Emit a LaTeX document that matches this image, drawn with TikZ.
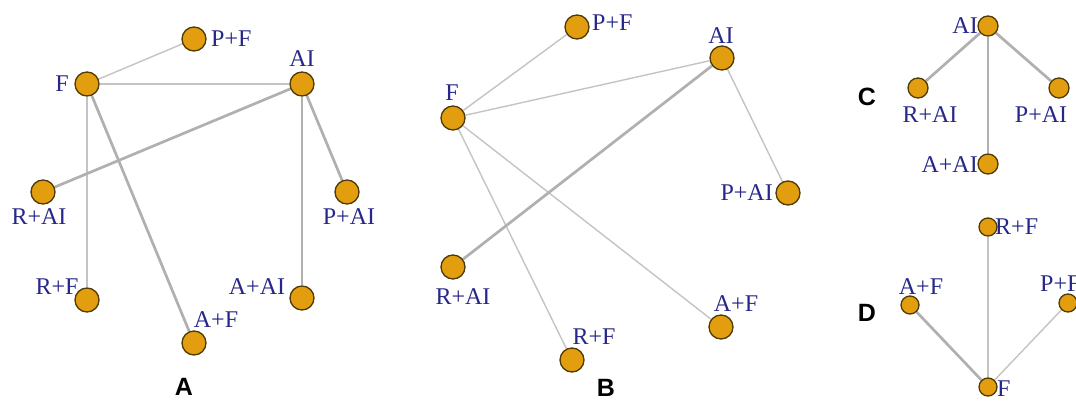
\documentclass[tikz,border=0pt]{standalone}
\usepackage{fontspec}
\setmainfont{Liberation Serif}
\newfontfamily\panelfont{Liberation Sans}
\usetikzlibrary{backgrounds}
\definecolor{nodeorange}{HTML}{E39E0F}
\definecolor{nodeborder}{HTML}{4E3A05}
\definecolor{labblue}{HTML}{27278A}
\definecolor{thingray}{HTML}{C4C4C4}
\definecolor{thickgray}{HTML}{B0B0B0}
\tikzset{
  nd/.style={circle, fill=nodeorange, draw=nodeborder, line width=1.3pt, minimum size=24pt, inner sep=0pt},
  ndc/.style={nd, minimum size=20pt},
  ndd/.style={nd, minimum size=18pt},
  lab/.style={text=labblue, font=\fontsize{24}{24}\selectfont, inner sep=0pt},
  plab/.style={font=\panelfont\bfseries\fontsize{25}{25}\selectfont, inner sep=0pt},
  thinedge/.style={draw=thingray, line width=1.4pt},
  thickedge/.style={draw=thickgray, line width=2.7pt},
}
\begin{document}
\begin{tikzpicture}[x=1pt, y=-1pt]
\useasboundingbox (0,0) rectangle (1076,401);
% ---------- Panel A ----------
\node[nd] (aPF) at (194,39) {};
\node[nd] (aF) at (87,84) {};
\node[nd] (aAI) at (302,84) {};
\node[nd] (aRAI) at (43,192) {};
\node[nd] (aPAI) at (347,192) {};
\node[nd] (aRF) at (87,300) {};
\node[nd] (aAAI) at (302,298) {};
\node[nd] (aAF) at (194,343) {};
\node[lab, anchor=west] (laPF) at (211,39) {P+F};
\node[lab] (laF) at (62,84) {F};
\node[lab] (laAI) at (302,59) {AI};
\node[lab] (laRAI) at (39,217) {R+AI};
\node[lab] (laPAI) at (349,217) {P+AI};
\node[lab] (laRF) at (57,287) {R+F};
\node[lab] (laAAI) at (257,287) {A+AI};
\node[lab] (laAF) at (216,320) {A+F};
\node[plab] (pA) at (184,387) {A};
% ---------- Panel B ----------
\node[nd] (bPF) at (577,27) {};
\node[nd] (bAI) at (722,58) {};
\node[nd] (bF) at (453,118) {};
\node[nd] (bPAI) at (788,193) {};
\node[nd] (bRAI) at (453,267) {};
\node[nd] (bAF) at (721,327) {};
\node[nd] (bRF) at (572,360) {};
\node[lab, anchor=west] (lbPF) at (592,23) {P+F};
\node[lab] (lbAI) at (721,36) {AI};
\node[lab] (lbF) at (452,93) {F};
\node[lab, anchor=east] (lbPAI) at (773,193) {P+AI};
\node[lab] (lbRAI) at (463,297) {R+AI};
\node[lab] (lbAF) at (736,304) {A+F};
\node[lab] (lbRF) at (594,337) {R+F};
\node[plab] (pB) at (606,388) {B};
% ---------- Panel C ----------
\node[ndc] (cAI) at (988,26) {};
\node[ndc] (cRAI) at (918,88) {};
\node[ndc] (cPAI) at (1059,88) {};
\node[ndc] (cAAI) at (988,164) {};
\node[lab, anchor=east] (lcAI) at (978,26) {AI};
\node[lab] (lcRAI) at (930,115) {R+AI};
\node[lab] (lcPAI) at (1041,115) {P+AI};
\node[lab, anchor=east] (lcAAI) at (978,165) {A+AI};
\node[plab] (pC) at (867,97) {C};
% ---------- Panel D ----------
\node[ndd] (dRF) at (988,227) {};
\node[ndd] (dAF) at (910,305) {};
\node[ndd] (dPF) at (1068,303) {};
\node[ndd] (dF) at (988,387) {};
\node[lab, anchor=west] (ldRF) at (995,227) {R+F};
\node[lab] (ldAF) at (921,287) {A+F};
\node[lab, anchor=west] (ldPF) at (1040,284) {P+F};
\node[lab, anchor=west] (ldF) at (997,389) {F};
\node[plab] (pD) at (867,313) {D};
% ---------- Edges ----------
\begin{scope}[on background layer]
\fill[white] (0,0) rectangle (1076,401);
\draw[thinedge] (aF) -- (aPF);
\draw[thinedge] (aF) -- (aAI);
\draw[thinedge] (aF) -- (aRF);
\draw[thickedge] (aF) -- (aAF);
\draw[thickedge] (aAI) -- (aRAI);
\draw[thickedge] (aAI) -- (aPAI);
\draw[thickedge] (aAI) -- (aAAI);
\draw[thinedge] (bF) -- (bPF);
\draw[thinedge] (bF) -- (bAI);
\draw[thinedge] (bF) -- (bRF);
\draw[thinedge] (bF) -- (bAF);
\draw[thinedge] (bAI) -- (bPAI);
\draw[thickedge] (bAI) -- (bRAI);
\draw[thickedge] (cAI) -- (cRAI);
\draw[thickedge] (cAI) -- (cPAI);
\draw[thickedge] (cAI) -- (cAAI);
\draw[thinedge] (dF) -- (dRF);
\draw[thickedge] (dF) -- (dAF);
\draw[thinedge] (dF) -- (dPF);
\end{scope}
\end{tikzpicture}
\end{document}
